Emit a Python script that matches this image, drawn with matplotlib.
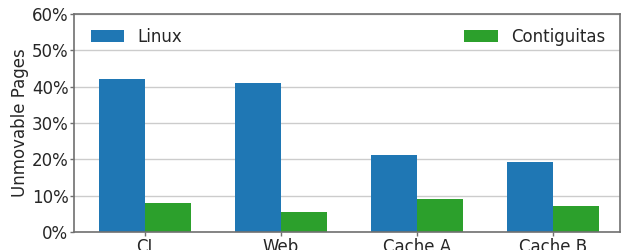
import matplotlib
matplotlib.use('Agg')
import matplotlib.pyplot as plt
import numpy as np

categories = ['CI', 'Web', 'Cache A', 'Cache B']
linux = [42.1, 41.0, 21.2, 19.3]
contiguitas = [8.0, 5.5, 9.1, 7.2]
yticks = [0, 10, 20, 30, 40, 50, 60]

text_color = '#262626'
spine_color = '#707070'

plt.rcParams['font.family'] = 'DejaVu Sans'
fig, ax = plt.subplots(figsize=(6.22, 2.5), dpi=100)
fig.subplots_adjust(left=0.119, right=0.996, top=0.944, bottom=0.072)

x = np.arange(len(categories))
w = 0.34
ax.bar(x - w / 2, linux, w, color='#1f77b4', label='Linux', zorder=2)
ax.bar(x + w / 2, contiguitas, w, color='#2ca02c', label='Contiguitas', zorder=2)

ax.set_xlim(-0.52, 3.49)
ax.set_ylim(0, 60)
ax.set_yticks(yticks)
ax.set_yticklabels([f'{t}%' for t in yticks])
ax.set_xticks(x)
ax.set_xticklabels(categories)
ax.set_ylabel('Unmovable Pages', color=text_color, fontsize=12, labelpad=2)
ax.tick_params(labelsize=12, colors=text_color, length=3, width=1, pad=1)
ax.tick_params(axis='both', color=spine_color)
ax.grid(axis='y', color='#cccccc', linewidth=1, zorder=0)
ax.set_axisbelow(True)
for s in ax.spines.values():
    s.set_color(spine_color)
    s.set_linewidth(1.2)
    s.set_zorder(3)

ax.legend(loc='upper left', bbox_to_anchor=(0.01, 0.99, 0.985, 0), ncol=2, mode='expand',
          frameon=False, fontsize=12, labelcolor=text_color,
          handlelength=2.0, handleheight=0.72, handletextpad=0.8, borderaxespad=0.3)

fig.savefig('out.png', dpi=100)
